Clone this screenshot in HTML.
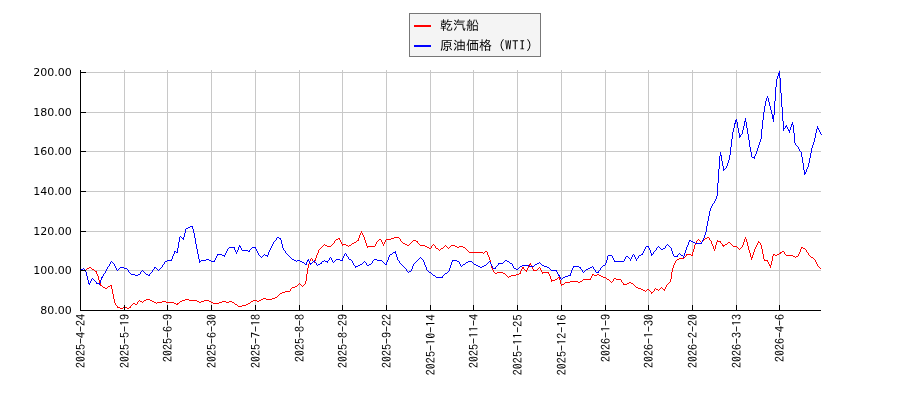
<!DOCTYPE html>
<html lang="ja"><head><meta charset="utf-8"><title>乾汽船 / 原油価格（WTI）</title>
<style>
html,body{margin:0;padding:0;background:#fff;}
body{width:900px;height:400px;overflow:hidden;}
svg{display:block;will-change:transform;}
.yl{font-family:"DejaVu Sans","Liberation Sans",sans-serif;font-size:11px;fill:#000;text-anchor:end;}
.xl{font-family:"IPAGothic","Liberation Mono","Noto Sans CJK JP",monospace;font-size:12px;fill:#000;text-anchor:end;}
.lg{font-family:"IPAGothic","Liberation Sans","Noto Sans CJK JP",sans-serif;font-size:13px;fill:#000;}
</style></head><body>
<svg width="900" height="400" viewBox="0 0 900 400">

<g shape-rendering="crispEdges" stroke="#c8c8c8" stroke-width="1" fill="none">
<line x1="81" y1="72.5" x2="821" y2="72.5"/>
<line x1="81" y1="112.5" x2="821" y2="112.5"/>
<line x1="81" y1="151.5" x2="821" y2="151.5"/>
<line x1="81" y1="191.5" x2="821" y2="191.5"/>
<line x1="81" y1="231.5" x2="821" y2="231.5"/>
<line x1="81" y1="270.5" x2="821" y2="270.5"/>
<line x1="124.5" y1="70" x2="124.5" y2="310"/>
<line x1="167.5" y1="70" x2="167.5" y2="310"/>
<line x1="211.5" y1="70" x2="211.5" y2="310"/>
<line x1="255.5" y1="70" x2="255.5" y2="310"/>
<line x1="299.5" y1="70" x2="299.5" y2="310"/>
<line x1="342.5" y1="70" x2="342.5" y2="310"/>
<line x1="386.5" y1="70" x2="386.5" y2="310"/>
<line x1="430.5" y1="70" x2="430.5" y2="310"/>
<line x1="473.5" y1="70" x2="473.5" y2="310"/>
<line x1="517.5" y1="70" x2="517.5" y2="310"/>
<line x1="561.5" y1="70" x2="561.5" y2="310"/>
<line x1="605.5" y1="70" x2="605.5" y2="310"/>
<line x1="648.5" y1="70" x2="648.5" y2="310"/>
<line x1="692.5" y1="70" x2="692.5" y2="310"/>
<line x1="736.5" y1="70" x2="736.5" y2="310"/>
<line x1="779.5" y1="70" x2="779.5" y2="310"/>
</g>
<path shape-rendering="crispEdges" fill="none" stroke="#ff0000" stroke-width="1" d="M96.5 271v3M97.5 274v2M98.5 276v4M99.5 280v3M100.5 283v3M111.5 285v4M112.5 289v5M113.5 294v5M114.5 299v4M115.5 303v2M117.5 306v2M130.5 306v2M137.5 302v2M177.5 303v2M290.5 289v2M305.5 281v3M306.5 274v7M307.5 268v6M308.5 264v4M309.5 261v3M310.5 259v2M312.5 259v2M314.5 261v2M315.5 258v3M316.5 255v3M317.5 253v2M318.5 250v3M334.5 241v2M339.5 238v2M340.5 240v2M341.5 242v2M342.5 244v2M358.5 238v3M359.5 235v3M360.5 233v2M361.5 231v2M362.5 233v2M363.5 235v2M364.5 237v3M365.5 240v3M366.5 243v3M367.5 246v2M375.5 244v2M376.5 242v2M381.5 240v2M382.5 242v2M383.5 244v2M384.5 242v2M385.5 240v2M400.5 239v2M417.5 241v2M431.5 246v2M435.5 246v2M487.5 252v3M488.5 255v2M489.5 257v3M490.5 260v4M491.5 264v4M492.5 268v2M493.5 270v2M520.5 271v3M521.5 269v2M522.5 267v2M523.5 267v2M526.5 270v2M527.5 268v2M528.5 266v2M529.5 264v2M530.5 263v2M531.5 265v2M532.5 267v2M533.5 269v2M540.5 268v2M541.5 270v2M542.5 272v2M548.5 272v2M549.5 274v2M550.5 276v3M551.5 279v3M559.5 276v4M560.5 280v4M561.5 284v2M590.5 278v2M591.5 276v2M592.5 274v2M613.5 279v2M621.5 280v2M623.5 283v2M651.5 292v2M654.5 289v2M664.5 289v2M665.5 287v2M666.5 285v2M670.5 279v3M671.5 272v7M672.5 268v4M673.5 265v3M674.5 263v2M675.5 261v2M686.5 254v2M692.5 252v4M693.5 249v3M694.5 245v4M695.5 243v2M696.5 241v2M709.5 238v2M711.5 241v3M712.5 244v2M713.5 246v3M714.5 249v2M715.5 245v4M716.5 242v3M717.5 240v2M720.5 241v2M722.5 244v2M723.5 245v2M742.5 245v2M743.5 242v3M744.5 239v3M745.5 237v2M746.5 239v3M747.5 242v4M748.5 246v4M749.5 250v3M750.5 253v4M751.5 257v3M752.5 255v3M753.5 252v3M754.5 249v3M755.5 247v2M756.5 245v2M757.5 243v2M758.5 241v2M760.5 243v2M761.5 245v4M762.5 249v5M763.5 254v5M764.5 259v2M767.5 260v2M768.5 262v2M769.5 264v2M770.5 265v3M771.5 261v4M772.5 256v5M773.5 254v2M780.5 252v2M784.5 252v2M798.5 254v2M799.5 252v2M800.5 249v3M801.5 247v2M806.5 250v2M808.5 253v2M815.5 260v2M816.5 262v2M817.5 264v2M394 237.5h5M707 237.5h2M338 238.5h1M391 238.5h3M399 238.5h1M705 238.5h2M336 239.5h2M379 239.5h2M386 239.5h5M698 239.5h1M704 239.5h1M335 240.5h1M357 240.5h1M378 240.5h1M413 240.5h3M697 240.5h1M699 240.5h1M703 240.5h1M710 240.5h1M356 241.5h1M377 241.5h1M401 241.5h1M412 241.5h1M416 241.5h1M700 241.5h1M702 241.5h1M718 241.5h2M354 242.5h2M402 242.5h1M411 242.5h1M701 242.5h1M728 242.5h2M759 242.5h1M333 243.5h1M352 243.5h2M403 243.5h2M410 243.5h1M418 243.5h1M721 243.5h1M727 243.5h1M730 243.5h1M324 244.5h1M332 244.5h1M343 244.5h3M351 244.5h1M405 244.5h2M409 244.5h1M419 244.5h1M433 244.5h1M725 244.5h2M731 244.5h1M323 245.5h1M325 245.5h2M331 245.5h1M346 245.5h2M349 245.5h2M407 245.5h2M420 245.5h5M432 245.5h1M434 245.5h1M445 245.5h1M451 245.5h4M724 245.5h1M732 245.5h1M322 246.5h1M327 246.5h4M348 246.5h1M368 246.5h7M425 246.5h2M444 246.5h1M446 246.5h1M450 246.5h1M455 246.5h2M459 246.5h4M733 246.5h4M321 247.5h1M427 247.5h2M443 247.5h1M447 247.5h1M449 247.5h1M457 247.5h2M463 247.5h2M737 247.5h1M741 247.5h1M802 247.5h1M320 248.5h1M429 248.5h2M436 248.5h2M441 248.5h2M448 248.5h1M465 248.5h1M738 248.5h1M740 248.5h1M803 248.5h2M319 249.5h1M438 249.5h1M440 249.5h1M466 249.5h1M739 249.5h1M805 249.5h1M439 250.5h1M467 250.5h1M468 251.5h1M485 251.5h2M782 251.5h2M469 252.5h14M484 252.5h1M781 252.5h1M807 252.5h1M483 253.5h1M779 253.5h1M687 254.5h4M774 254.5h1M777 254.5h2M785 254.5h1M691 255.5h1M775 255.5h2M786 255.5h7M809 255.5h1M685 256.5h1M793 256.5h2M796 256.5h2M810 256.5h1M684 257.5h1M795 257.5h1M811 257.5h2M311 258.5h1M679 258.5h5M813 258.5h1M677 259.5h2M814 259.5h1M676 260.5h1M765 260.5h2M313 261.5h1M818 266.5h1M89 267.5h2M539 267.5h1M819 267.5h1M87 268.5h2M91 268.5h1M538 268.5h1M820 268.5h1M86 269.5h1M92 269.5h2M524 269.5h1M537 269.5h1M80 270.5h6M94 270.5h1M525 270.5h1M534 270.5h3M95 271.5h1M494 272.5h1M497 272.5h6M543 272.5h5M495 273.5h2M503 273.5h2M519 273.5h1M505 274.5h1M516 274.5h3M593 274.5h1M597 274.5h2M506 275.5h1M511 275.5h5M594 275.5h3M599 275.5h2M507 276.5h1M509 276.5h2M601 276.5h2M508 277.5h1M558 277.5h1M603 277.5h3M557 278.5h1M606 278.5h1M614 278.5h2M555 279.5h2M583 279.5h7M607 279.5h2M616 279.5h5M552 280.5h3M582 280.5h1M609 280.5h1M570 281.5h8M580 281.5h2M610 281.5h1M612 281.5h1M565 282.5h5M578 282.5h2M611 282.5h1M622 282.5h1M629 282.5h2M669 282.5h1M299 283.5h1M564 283.5h1M627 283.5h2M631 283.5h2M668 283.5h1M298 284.5h1M300 284.5h1M304 284.5h1M562 284.5h2M624 284.5h3M633 284.5h1M667 284.5h1M101 285.5h1M110 285.5h1M297 285.5h1M301 285.5h1M303 285.5h1M634 285.5h1M102 286.5h1M108 286.5h2M295 286.5h2M302 286.5h1M635 286.5h1M103 287.5h2M107 287.5h1M292 287.5h3M636 287.5h2M661 287.5h1M105 288.5h2M291 288.5h1M638 288.5h3M655 288.5h1M660 288.5h1M662 288.5h1M641 289.5h2M647 289.5h2M656 289.5h2M659 289.5h1M663 289.5h1M643 290.5h2M646 290.5h1M649 290.5h1M658 290.5h1M285 291.5h5M645 291.5h1M650 291.5h1M653 291.5h1M282 292.5h3M652 292.5h1M280 293.5h2M279 294.5h1M278 295.5h1M277 296.5h1M275 297.5h2M263 298.5h3M272 298.5h3M146 299.5h4M185 299.5h4M261 299.5h2M266 299.5h6M139 300.5h1M144 300.5h2M150 300.5h2M182 300.5h3M189 300.5h8M204 300.5h5M253 300.5h4M259 300.5h2M138 301.5h1M140 301.5h2M143 301.5h1M152 301.5h2M162 301.5h4M180 301.5h2M197 301.5h2M201 301.5h3M209 301.5h2M222 301.5h4M229 301.5h3M251 301.5h2M257 301.5h2M142 302.5h1M154 302.5h2M157 302.5h5M166 302.5h8M179 302.5h1M199 302.5h2M211 302.5h2M219 302.5h3M226 302.5h3M232 302.5h2M250 302.5h1M133 303.5h2M156 303.5h1M174 303.5h2M178 303.5h1M213 303.5h6M234 303.5h1M248 303.5h2M132 304.5h1M135 304.5h2M176 304.5h1M235 304.5h2M246 304.5h2M116 305.5h1M131 305.5h1M237 305.5h1M242 305.5h4M238 306.5h4M118 307.5h2M123 307.5h4M129 307.5h1M120 308.5h3M127 308.5h2"/>
<path shape-rendering="crispEdges" fill="none" stroke="#0000ff" stroke-width="1" d="M85.5 270v2M86.5 272v4M87.5 276v4M88.5 280v4M89.5 283v2M90.5 281v2M91.5 279v2M96.5 282v2M99.5 283v2M100.5 280v3M101.5 277v3M102.5 276v2M103.5 274v2M105.5 271v2M106.5 269v2M107.5 267v2M109.5 264v2M110.5 262v2M114.5 264v2M115.5 266v2M116.5 268v2M128.5 270v2M140.5 272v2M149.5 274v2M152.5 270v2M154.5 267v2M162.5 265v2M164.5 262v2M171.5 259v2M172.5 256v3M173.5 254v2M174.5 251v3M177.5 248v5M178.5 242v6M179.5 237v5M183.5 237v3M184.5 233v4M185.5 229v4M192.5 226v3M193.5 229v4M194.5 233v5M195.5 238v6M196.5 244v5M197.5 249v5M198.5 254v5M199.5 259v4M214.5 260v2M215.5 258v2M216.5 256v2M217.5 254v2M224.5 255v2M225.5 253v2M226.5 251v2M227.5 249v2M234.5 247v3M235.5 250v2M236.5 252v2M237.5 250v2M238.5 247v3M239.5 245v2M240.5 246v2M241.5 248v2M249.5 250v2M255.5 247v2M256.5 249v2M257.5 251v2M258.5 253v2M267.5 255v2M268.5 252v3M269.5 250v2M270.5 248v2M271.5 246v2M272.5 244v2M273.5 242v2M276.5 238v2M280.5 238v2M281.5 240v4M282.5 244v4M283.5 248v2M285.5 251v2M306.5 262v3M307.5 260v2M308.5 259v2M309.5 261v2M310.5 263v2M314.5 260v2M316.5 263v2M321.5 262v2M327.5 261v2M329.5 258v2M331.5 258v2M332.5 260v2M342.5 258v3M343.5 256v2M344.5 254v2M346.5 254v2M348.5 257v2M352.5 261v2M353.5 263v2M355.5 266v2M366.5 263v2M372.5 261v2M386.5 262v3M387.5 260v2M388.5 257v3M389.5 255v2M395.5 251v3M396.5 254v3M397.5 257v3M399.5 261v2M406.5 269v2M411.5 269v2M412.5 266v3M413.5 264v2M423.5 260v2M424.5 262v3M425.5 265v2M426.5 267v3M442.5 276v2M449.5 268v3M450.5 265v3M451.5 262v3M452.5 260v2M459.5 262v2M460.5 264v2M490.5 262v2M491.5 264v2M492.5 266v2M495.5 267v2M498.5 263v2M512.5 264v2M513.5 266v2M556.5 270v2M557.5 272v2M558.5 274v2M559.5 275v2M560.5 277v2M570.5 273v3M571.5 270v3M572.5 268v2M573.5 266v2M580.5 267v2M582.5 270v2M593.5 267v2M595.5 270v2M598.5 271v2M600.5 268v2M605.5 263v2M606.5 260v3M607.5 256v4M612.5 256v2M613.5 258v2M614.5 260v2M624.5 259v2M625.5 257v2M630.5 259v2M631.5 257v2M632.5 255v2M634.5 255v2M635.5 257v2M636.5 259v2M638.5 256v2M642.5 253v2M643.5 251v2M644.5 249v2M645.5 247v2M648.5 246v2M649.5 248v2M650.5 250v3M651.5 253v3M653.5 252v2M656.5 248v2M665.5 246v2M671.5 248v3M672.5 251v3M673.5 254v2M677.5 255v2M683.5 256v2M684.5 253v3M685.5 250v3M686.5 247v3M687.5 245v2M688.5 242v3M689.5 240v2M701.5 242v2M702.5 240v2M703.5 238v2M704.5 235v3M705.5 232v3M706.5 226v6M707.5 221v5M708.5 216v5M709.5 211v5M710.5 208v3M711.5 206v2M712.5 204v2M714.5 201v2M715.5 199v2M716.5 196v3M717.5 183v13M718.5 169v14M719.5 156v13M720.5 152v4M721.5 155v6M722.5 161v5M723.5 166v5M726.5 166v2M727.5 163v3M728.5 160v3M729.5 155v5M730.5 147v8M731.5 139v8M732.5 132v7M733.5 128v4M734.5 123v5M735.5 120v4M736.5 119v3M737.5 122v6M738.5 128v5M739.5 133v5M740.5 135v2M742.5 130v4M743.5 126v4M744.5 121v5M745.5 118v4M746.5 122v6M747.5 128v6M748.5 134v6M749.5 140v7M750.5 147v5M751.5 152v5M754.5 156v3M755.5 154v2M756.5 151v3M757.5 148v3M758.5 145v3M759.5 142v3M760.5 139v3M761.5 129v10M762.5 120v9M763.5 112v8M764.5 106v6M765.5 101v5M766.5 98v3M767.5 96v2M768.5 98v4M769.5 102v4M770.5 106v4M771.5 110v4M772.5 114v5M773.5 115v7M774.5 101v14M775.5 87v14M776.5 79v8M777.5 76v3M778.5 73v3M779.5 71v7M780.5 78v15M781.5 93v14M782.5 107v14M783.5 121v10M785.5 126v2M786.5 125v2M787.5 127v2M788.5 129v2M789.5 130v3M790.5 127v3M791.5 124v3M792.5 122v3M793.5 125v8M794.5 133v10M795.5 143v2M798.5 147v2M799.5 149v2M801.5 152v5M802.5 157v6M803.5 163v7M804.5 170v5M805.5 172v2M806.5 169v3M807.5 167v2M808.5 163v4M809.5 158v5M810.5 153v5M811.5 148v5M812.5 145v3M813.5 142v3M814.5 138v4M815.5 133v5M816.5 129v4M817.5 126v3M818.5 128v2M819.5 130v2M820.5 132v2M784 128.5h1M741 134.5h1M821 134.5h1M796 145.5h1M797 146.5h1M800 151.5h1M752 157.5h2M725 168.5h1M724 169.5h1M713 203.5h1M190 226.5h2M188 227.5h2M186 228.5h2M180 236.5h1M181 237.5h1M277 237.5h2M182 238.5h1M279 238.5h1M275 240.5h1M690 240.5h1M274 241.5h1M691 241.5h2M693 242.5h2M695 243.5h6M667 244.5h1M666 245.5h1M668 245.5h1M646 246.5h2M658 246.5h1M669 246.5h1M229 247.5h5M252 247.5h3M657 247.5h1M659 247.5h1M670 247.5h1M228 248.5h1M251 248.5h1M660 248.5h1M663 248.5h2M250 249.5h1M661 249.5h2M242 250.5h6M284 250.5h1M655 250.5h1M175 251.5h1M248 251.5h1M654 251.5h1M176 252.5h1M393 252.5h2M286 253.5h1M345 253.5h1M392 253.5h1M679 253.5h1M218 254.5h4M264 254.5h1M287 254.5h1M390 254.5h2M633 254.5h1M641 254.5h1M652 254.5h1M678 254.5h1M680 254.5h1M222 255.5h2M259 255.5h1M263 255.5h1M265 255.5h2M288 255.5h1M608 255.5h4M639 255.5h2M681 255.5h2M260 256.5h1M262 256.5h1M289 256.5h1M347 256.5h1M626 256.5h2M674 256.5h3M261 257.5h1M290 257.5h1M330 257.5h1M420 257.5h1M628 257.5h1M291 258.5h1M419 258.5h1M421 258.5h1M629 258.5h1M637 258.5h1M206 259.5h3M292 259.5h2M336 259.5h4M349 259.5h2M374 259.5h3M418 259.5h1M422 259.5h1M167 260.5h4M201 260.5h5M209 260.5h2M294 260.5h2M297 260.5h3M324 260.5h1M328 260.5h1M335 260.5h1M340 260.5h2M351 260.5h1M373 260.5h1M377 260.5h5M398 260.5h1M417 260.5h1M453 260.5h4M505 260.5h2M111 261.5h1M165 261.5h2M200 261.5h1M211 261.5h3M296 261.5h1M300 261.5h2M313 261.5h1M322 261.5h2M325 261.5h2M334 261.5h1M364 261.5h1M382 261.5h1M416 261.5h1M457 261.5h2M468 261.5h4M489 261.5h1M504 261.5h1M507 261.5h2M615 261.5h9M112 262.5h1M302 262.5h2M312 262.5h1M315 262.5h1M333 262.5h1M363 262.5h1M365 262.5h1M383 262.5h1M415 262.5h1M466 262.5h2M472 262.5h1M488 262.5h1M503 262.5h1M509 262.5h1M539 262.5h1M113 263.5h1M304 263.5h1M311 263.5h1M320 263.5h1M362 263.5h1M371 263.5h1M384 263.5h1M400 263.5h1M414 263.5h1M465 263.5h1M473 263.5h1M487 263.5h1M499 263.5h4M510 263.5h2M537 263.5h2M540 263.5h1M163 264.5h1M305 264.5h1M318 264.5h2M360 264.5h2M369 264.5h2M385 264.5h1M401 264.5h1M463 264.5h2M474 264.5h2M486 264.5h1M535 264.5h2M541 264.5h1M317 265.5h1M354 265.5h1M358 265.5h2M367 265.5h2M402 265.5h1M462 265.5h1M476 265.5h2M484 265.5h2M497 265.5h1M522 265.5h7M534 265.5h1M542 265.5h2M603 265.5h2M108 266.5h1M356 266.5h2M403 266.5h1M461 266.5h1M478 266.5h2M482 266.5h2M496 266.5h1M520 266.5h2M529 266.5h5M544 266.5h3M574 266.5h5M592 266.5h1M602 266.5h1M120 267.5h4M155 267.5h1M161 267.5h1M404 267.5h1M480 267.5h2M519 267.5h1M547 267.5h2M579 267.5h1M590 267.5h2M601 267.5h1M83 268.5h1M119 268.5h1M124 268.5h3M156 268.5h1M160 268.5h1M405 268.5h1M493 268.5h2M514 268.5h2M518 268.5h1M549 268.5h1M588 268.5h2M81 269.5h2M84 269.5h1M118 269.5h1M127 269.5h1M153 269.5h1M157 269.5h1M159 269.5h1M516 269.5h2M550 269.5h1M581 269.5h1M586 269.5h2M594 269.5h1M80 270.5h1M117 270.5h1M142 270.5h1M158 270.5h1M427 270.5h1M551 270.5h5M585 270.5h1M599 270.5h1M141 271.5h1M143 271.5h1M407 271.5h1M409 271.5h2M428 271.5h1M448 271.5h1M584 271.5h1M129 272.5h1M144 272.5h1M151 272.5h1M408 272.5h1M429 272.5h2M447 272.5h1M583 272.5h1M596 272.5h2M104 273.5h1M130 273.5h1M145 273.5h1M150 273.5h1M431 273.5h1M445 273.5h2M131 274.5h4M138 274.5h2M146 274.5h2M432 274.5h1M444 274.5h1M135 275.5h3M148 275.5h1M433 275.5h2M443 275.5h1M568 275.5h2M435 276.5h1M565 276.5h3M436 277.5h6M563 277.5h2M92 278.5h1M562 278.5h1M93 279.5h1M561 279.5h1M94 280.5h1M95 281.5h1M97 283.5h2"/>
<g shape-rendering="crispEdges" stroke="#000" stroke-width="1" fill="none">
<line x1="80.5" y1="70" x2="80.5" y2="311"/>
<line x1="80" y1="310.5" x2="821" y2="310.5"/>
<line x1="81" y1="72.5" x2="86" y2="72.5"/>
<line x1="81" y1="112.5" x2="86" y2="112.5"/>
<line x1="81" y1="151.5" x2="86" y2="151.5"/>
<line x1="81" y1="191.5" x2="86" y2="191.5"/>
<line x1="81" y1="231.5" x2="86" y2="231.5"/>
<line x1="81" y1="270.5" x2="86" y2="270.5"/>
<line x1="124.5" y1="305" x2="124.5" y2="310"/>
<line x1="167.5" y1="305" x2="167.5" y2="310"/>
<line x1="211.5" y1="305" x2="211.5" y2="310"/>
<line x1="255.5" y1="305" x2="255.5" y2="310"/>
<line x1="299.5" y1="305" x2="299.5" y2="310"/>
<line x1="342.5" y1="305" x2="342.5" y2="310"/>
<line x1="386.5" y1="305" x2="386.5" y2="310"/>
<line x1="430.5" y1="305" x2="430.5" y2="310"/>
<line x1="473.5" y1="305" x2="473.5" y2="310"/>
<line x1="517.5" y1="305" x2="517.5" y2="310"/>
<line x1="561.5" y1="305" x2="561.5" y2="310"/>
<line x1="605.5" y1="305" x2="605.5" y2="310"/>
<line x1="648.5" y1="305" x2="648.5" y2="310"/>
<line x1="692.5" y1="305" x2="692.5" y2="310"/>
<line x1="736.5" y1="305" x2="736.5" y2="310"/>
<line x1="779.5" y1="305" x2="779.5" y2="310"/>
</g>
<text class="yl" x="71.75" y="75.5">200.00</text>
<text class="yl" x="71.75" y="115.5">180.00</text>
<text class="yl" x="71.75" y="154.5">160.00</text>
<text class="yl" x="71.75" y="194.5">140.00</text>
<text class="yl" x="71.75" y="234.5">120.00</text>
<text class="yl" x="71.75" y="273.5">100.00</text>
<text class="yl" x="71.75" y="313.5">80.00</text>
<text class="xl" transform="translate(85,314) rotate(-90)">2025-4-24</text>
<text class="xl" transform="translate(129,314) rotate(-90)">2025-5-19</text>
<text class="xl" transform="translate(172,314) rotate(-90)">2025-6-9</text>
<text class="xl" transform="translate(216,314) rotate(-90)">2025-6-30</text>
<text class="xl" transform="translate(260,314) rotate(-90)">2025-7-18</text>
<text class="xl" transform="translate(304,314) rotate(-90)">2025-8-8</text>
<text class="xl" transform="translate(347,314) rotate(-90)">2025-8-29</text>
<text class="xl" transform="translate(391,314) rotate(-90)">2025-9-22</text>
<text class="xl" letter-spacing="0.08" transform="translate(435,314.5) rotate(-90)">2025-10-14</text>
<text class="xl" transform="translate(478,314) rotate(-90)">2025-11-4</text>
<text class="xl" letter-spacing="0.08" transform="translate(522,314.5) rotate(-90)">2025-11-25</text>
<text class="xl" letter-spacing="0.08" transform="translate(566,314.5) rotate(-90)">2025-12-16</text>
<text class="xl" transform="translate(610,314) rotate(-90)">2026-1-9</text>
<text class="xl" transform="translate(653,314) rotate(-90)">2026-1-30</text>
<text class="xl" transform="translate(697,314) rotate(-90)">2026-2-20</text>
<text class="xl" transform="translate(741,314) rotate(-90)">2026-3-13</text>
<text class="xl" transform="translate(784,314) rotate(-90)">2026-4-6</text>
<rect x="409.5" y="13.5" width="131" height="43" fill="#f4f4f4" stroke="#777777" stroke-width="1" shape-rendering="crispEdges"/>
<line x1="414" y1="26" x2="431" y2="26" stroke="#ff0000" stroke-width="2" shape-rendering="crispEdges"/>
<line x1="414" y1="46" x2="431" y2="46" stroke="#0000ff" stroke-width="2" shape-rendering="crispEdges"/>
<text class="lg" x="440" y="30">乾汽船</text>
<text class="lg" x="440" y="50">原油価格（<tspan letter-spacing="0.5">WTI</tspan>）</text>
</svg>
</body></html>
